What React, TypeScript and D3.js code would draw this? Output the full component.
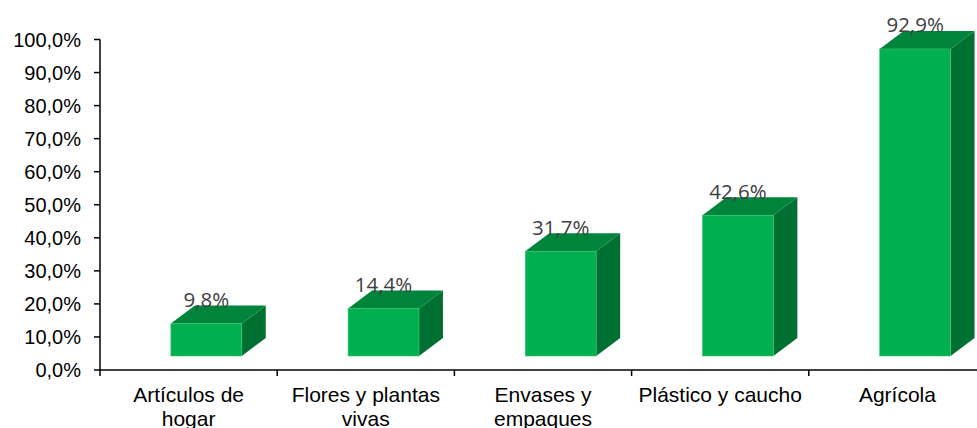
import React from "react";
import * as d3 from "d3";

const categories: string[][] = [
  ["Artículos de", "hogar"],
  ["Flores y plantas", "vivas"],
  ["Envases y", "empaques"],
  ["Plástico y caucho"],
  ["Agrícola"],
];
const values: number[] = [9.8, 14.4, 31.7, 42.6, 92.9];
const valueLabels: string[] = ["9,8%", "14,4%", "31,7%", "42,6%", "92,9%"];
const yTicks: number[] = [0, 10, 20, 30, 40, 50, 60, 70, 80, 90, 100];

const W = 977;
const H = 428;

export default function App() {
  const y = d3.scaleLinear().domain([0, 100]).range([370, 39.5]);
  const x = d3
    .scaleBand<number>()
    .domain(categories.map((_, i) => i))
    .range([100, 100 + 177.2 * categories.length])
    .padding(0);
  const bw = x.bandwidth();
  const floor = 14;
  const dx = 24;
  const dy = -18;
  const front = "#00B050";
  const top = "#00843C";
  const side = "#007032";

  return (
    <svg width={W} height={H} style={{ position: "absolute", left: 0, top: 0, display: "block" }}>
      <rect x={0} y={0} width={W} height={H} fill="#fff" />
      {/* y axis */}
      <line x1={100} x2={100} y1={y(100)} y2={y(0)} stroke="#000" strokeWidth={1.5} />
      {yTicks.map((t) => (
        <g key={t}>
          <line x1={94} x2={100} y1={y(t)} y2={y(t)} stroke="#000" strokeWidth={1.5} />
          <text
            x={81}
            y={y(t)}
            dy="0.36em"
            textAnchor="end"
            fontFamily="Liberation Sans, Arial, sans-serif"
            fontSize={20}
            fill="#000"
          >
            {d3.format(".1f")(t).replace(".", ",") + "%"}
          </text>
        </g>
      ))}
      {/* x axis */}
      <line x1={100} x2={W} y1={y(0)} y2={y(0)} stroke="#000" strokeWidth={1.5} />
      {categories.map((_, i) => (
        <line key={i} x1={x(i)!} x2={x(i)!} y1={y(0)} y2={y(0) + 6} stroke="#000" strokeWidth={1.5} />
      ))}
      {/* bars */}
      {values.map((v, i) => {
        const x0 = x(i)! + bw * 0.4;
        const x1 = x0 + bw * 0.4;
        const yb = y(0) - floor;
        const yt = y(v) - floor;
        const topPts = [
          [x0, yt],
          [x0 + dx, yt + dy],
          [x1 + dx, yt + dy],
          [x1, yt],
        ];
        const sidePts = [
          [x1, yt],
          [x1 + dx, yt + dy],
          [x1 + dx, yb + dy],
          [x1, yb],
        ];
        const pts = (p: number[][]) => p.map((q) => q.join(",")).join(" ");
        return (
          <g key={i}>
            <polygon points={pts(sidePts)} fill={side} />
            <polygon points={pts(topPts)} fill={top} />
            <rect x={x0} y={yt} width={x1 - x0} height={yb - yt} fill={front} stroke="#3DC472" strokeWidth={0.6} />
            <text
              x={(x0 + x1) / 2}
              y={yt - 24}
              dy="0.36em"
              textAnchor="middle"
              fontFamily="Open Sans, sans-serif"
              fontSize={20.5}
              fill="#404040"
            >
              {valueLabels[i]}
            </text>
          </g>
        );
      })}
      {/* category labels */}
      {categories.map((lines, i) => (
        <text
          key={i}
          x={x(i)! + bw / 2}
          y={402}
          textAnchor="middle"
          fontFamily="Liberation Sans, Arial, sans-serif"
          fontSize={21}
          fill="#000"
        >
          {lines.map((l, j) => (
            <tspan key={j} x={x(i)! + bw / 2} dy={j === 0 ? 0 : 24}>
              {l}
            </tspan>
          ))}
        </text>
      ))}
    </svg>
  );
}
